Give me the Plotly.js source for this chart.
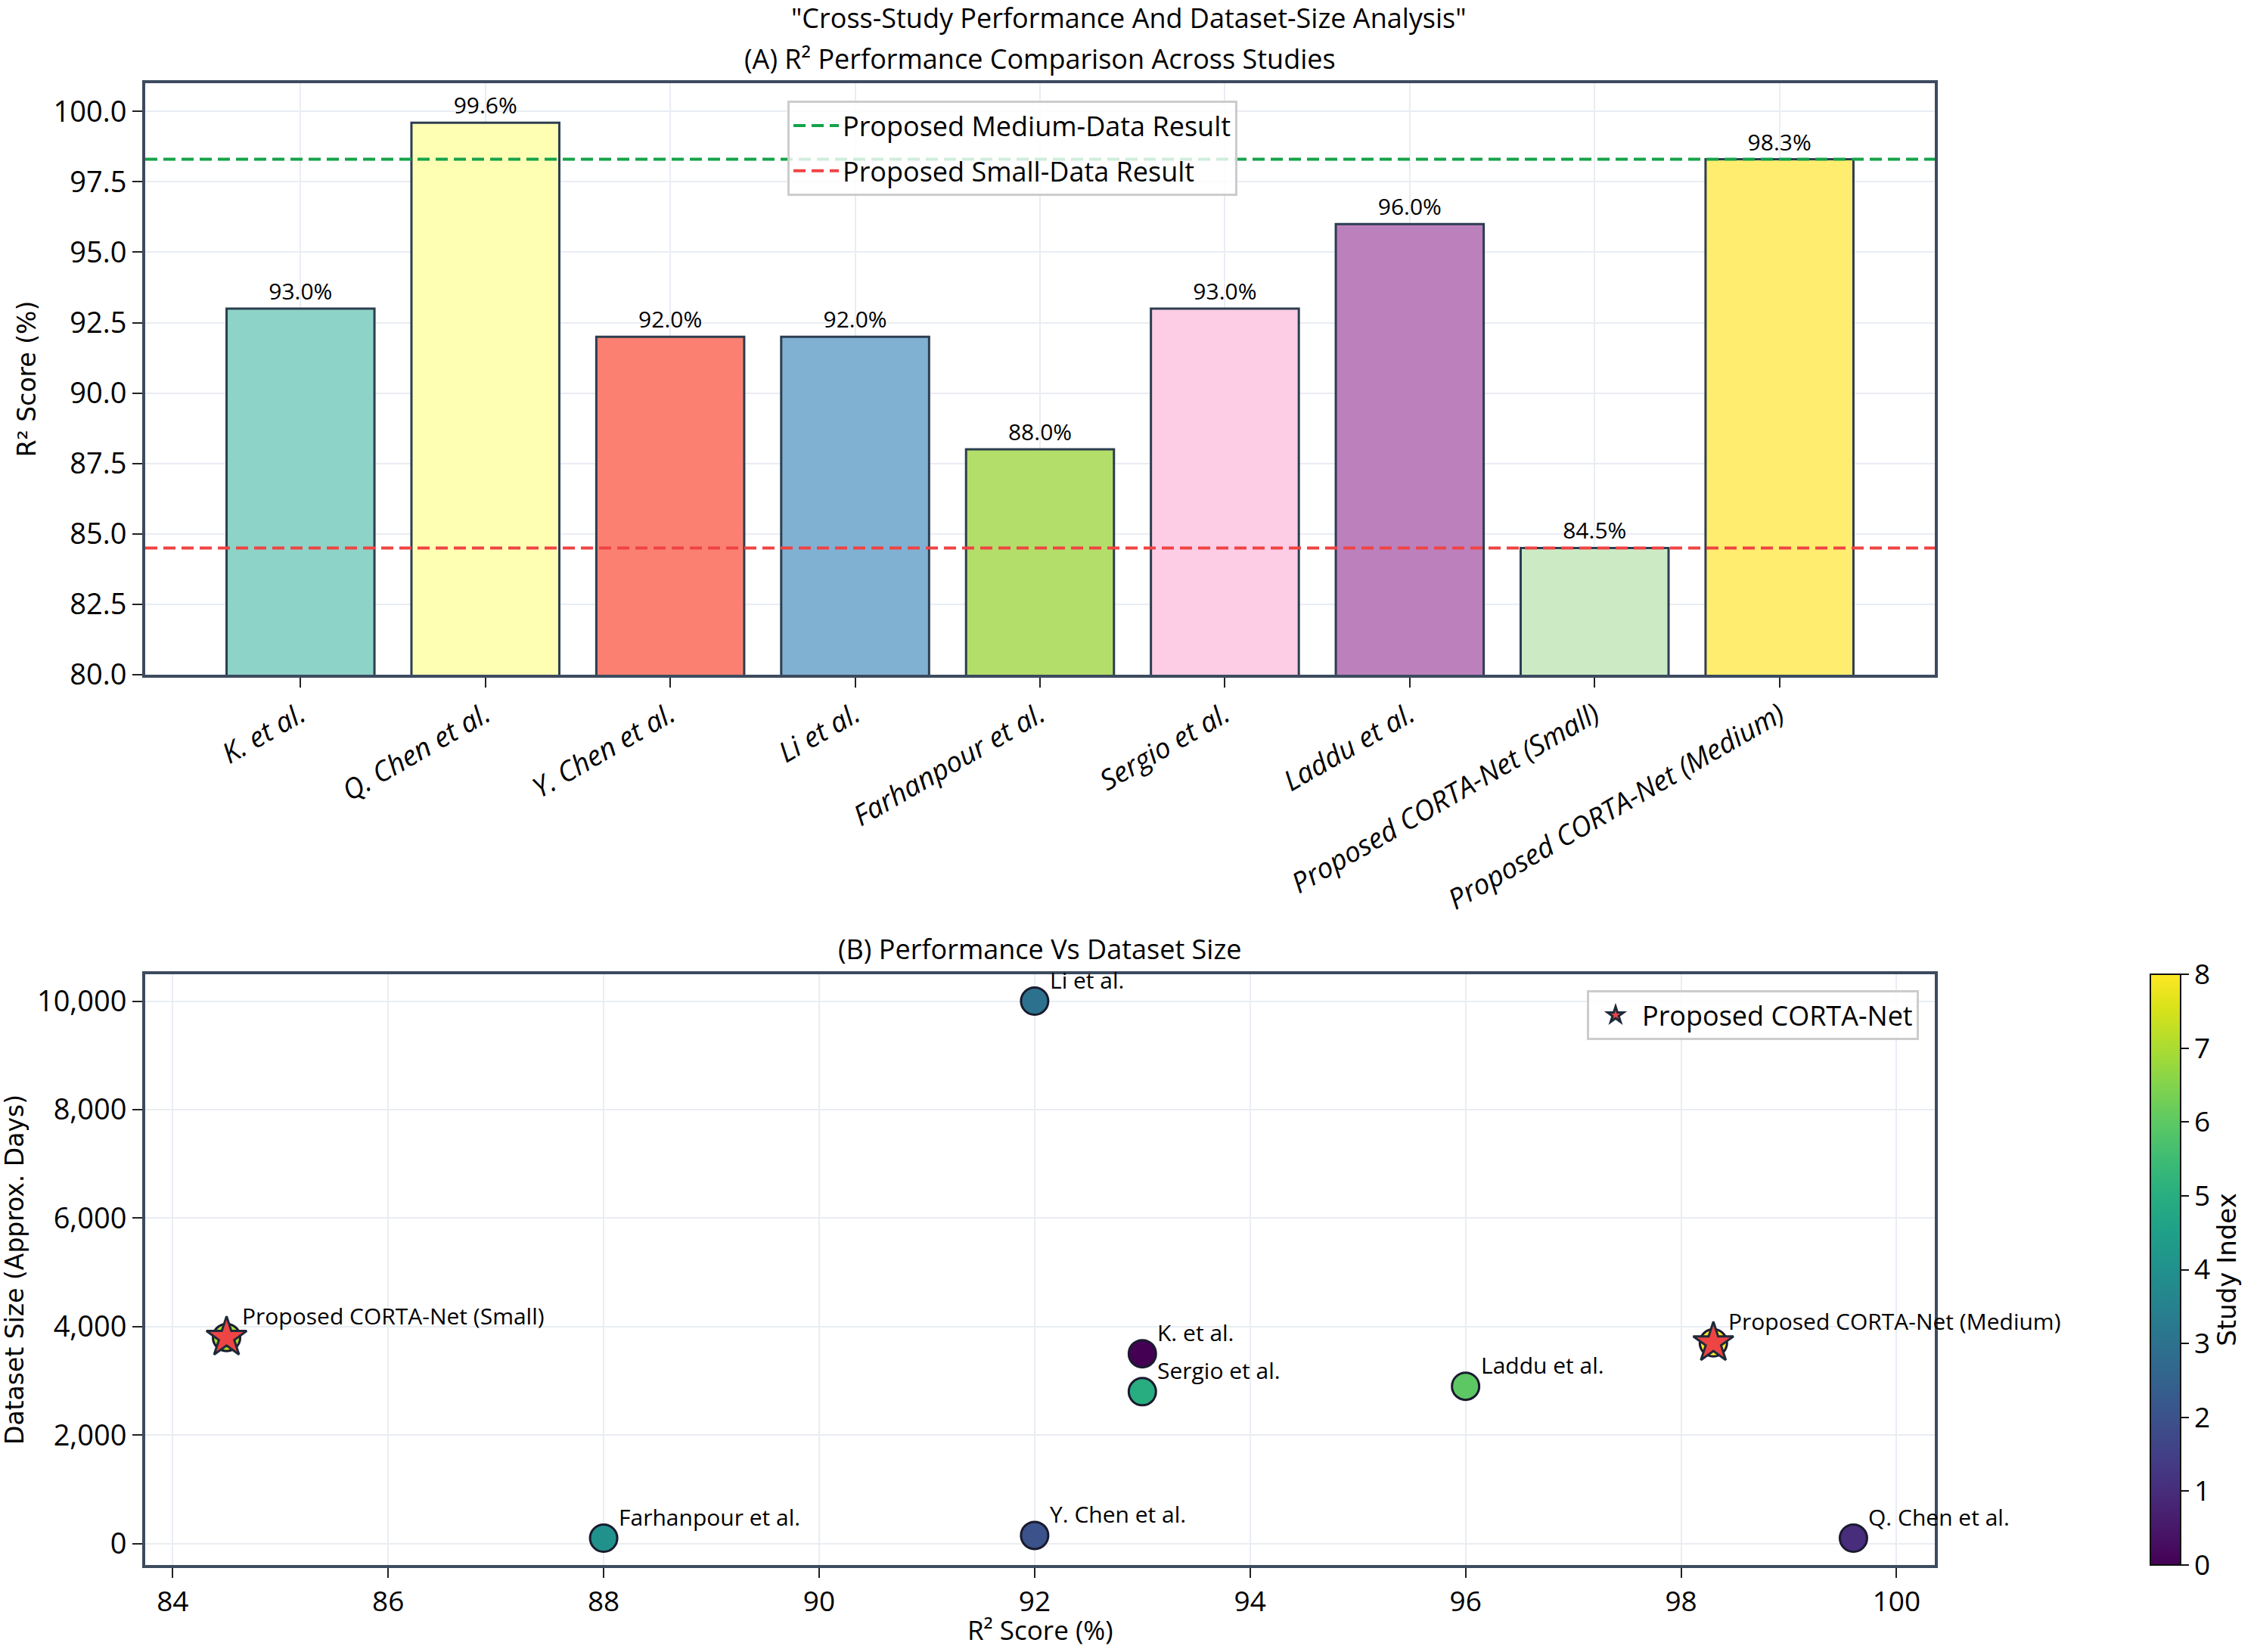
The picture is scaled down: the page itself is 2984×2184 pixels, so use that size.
<!DOCTYPE html>
<html>
<head>
<meta charset="utf-8">
<script src="https://cdn.plot.ly/plotly-3.0.1.min.js"></script>
<style>
  html, body { margin: 0; padding: 0; background: white; }
</style>
</head>
<body>
<div id="chart"></div>
<script>
// studies, in the order they appear on both panels
const studies = ['K. et al.', 'Q. Chen et al.', 'Y. Chen et al.', 'Li et al.', 'Farhanpour et al.',
                 'Sergio et al.', 'Laddu et al.', 'Proposed CORTA-Net (Small)', 'Proposed CORTA-Net (Medium)'];
const r2Scores = [93.0, 99.6, 92.0, 92.0, 88.0, 93.0, 96.0, 84.5, 98.3];
const datasetDays = [3500, 100, 150, 10000, 100, 2800, 2900, 3800, 3700];
const studyIndex = [0, 1, 2, 3, 4, 5, 6, 7, 8];
const barColors = ['#8dd3c7', '#ffffb3', '#fb8072', '#80b1d3', '#b3de69',
                   '#fccde5', '#bc80bd', '#ccebc5', '#ffed6f'];
const proposedIdx = [7, 8];
const mediumResult = 98.3;
const smallResult = 84.5;

const W = 2984, H = 2184;
const frameColor = '#3d4b5f';
const edgeColor = '#2c3e50';
const gridColor = '#e9edf3';
const txt = '#000000';
const sans = 'Open Sans, Liberation Sans, sans-serif';
const wide = 'DejaVu Sans, sans-serif';

// pixel helpers -> paper fractions
const px = x => x / W;
const py = y => 1 - y / H;

const barTrace = {
	type: 'bar',
	x: studies,
	y: r2Scores,
	marker: { color: barColors, line: { color: edgeColor, width: 3 } },
	text: r2Scores.map(v => v.toFixed(1) + '%'),
	textposition: 'outside',
	textfont: { family: sans, size: 30, color: txt },
	cliponaxis: false,
	showlegend: false,
	xaxis: 'x', yaxis: 'y',
};

const dotTrace = {
	type: 'scatter',
	mode: 'markers',
	x: r2Scores,
	y: datasetDays,
	marker: {
		size: 36,
		color: studyIndex,
		colorscale: 'Viridis',
		cmin: 0, cmax: 8,
		line: { color: '#1a1a2e', width: 3 },
		showscale: true,
		colorbar: {
			x: px(2843), xanchor: 'left', xref: 'paper',
			y: py(2069), yanchor: 'bottom',
			lenmode: 'pixels', len: 781,
			thickness: 40, xpad: 0, ypad: 0,
			outlinecolor: '#111', outlinewidth: 2,
			ticks: 'outside', ticklen: 10, tickwidth: 2, tickcolor: '#111',
			tickvals: studyIndex,
			tickfont: { family: sans, size: 37, color: txt },
			title: { text: 'Study Index', side: 'right', font: { family: wide, size: 34, color: txt } },
		},
	},
	showlegend: false,
	xaxis: 'x2', yaxis: 'y2',
};

const starTrace = {
	type: 'scatter',
	mode: 'markers',
	name: 'Proposed CORTA-Net',
	x: proposedIdx.map(i => r2Scores[i]),
	y: proposedIdx.map(i => datasetDays[i]),
	marker: { symbol: 'star', size: 40, color: '#ef4444', line: { color: '#1e2a3a', width: 3 } },
	legend: 'legend2',
	xaxis: 'x2', yaxis: 'y2',
};

const refLine = (val, color, name) => ({
	type: 'line', xref: 'x domain', x0: 0, x1: 1, yref: 'y', y0: val, y1: val,
	line: { color: color, width: 4, dash: '16px,8px' },
	showlegend: true, name: name, legend: 'legend', legendgroup: name, layer: 'above',
});

const annotations = [
	{ text: '"Cross-Study Performance And Dataset-Size Analysis"', xref: 'paper', yref: 'paper',
	  x: 0.5, y: py(24), xanchor: 'center', yanchor: 'middle', showarrow: false,
	  font: { family: sans, size: 36, color: txt } },
	{ text: '(A) R² Performance Comparison Across Studies', xref: 'paper', yref: 'paper',
	  x: px(1375), y: py(78), xanchor: 'center', yanchor: 'middle', showarrow: false,
	  font: { family: sans, size: 36, color: txt } },
	{ text: '(B) Performance Vs Dataset Size', xref: 'paper', yref: 'paper',
	  x: px(1375), y: py(1254), xanchor: 'center', yanchor: 'middle', showarrow: false,
	  font: { family: sans, size: 36, color: txt } },
	// bottom x-axis title placed directly so it clears the tick labels
	{ text: 'R² Score (%)', xref: 'paper', yref: 'paper',
	  x: px(1375), y: py(2180), xanchor: 'center', yanchor: 'bottom', showarrow: false,
	  font: { family: sans, size: 35, color: txt } },
];

studies.forEach((name, i) => {
	annotations.push({
		text: name, xref: 'x2', yref: 'y2', x: r2Scores[i], y: datasetDays[i],
		xanchor: 'left', yanchor: 'bottom', xshift: 18, yshift: 6, showarrow: false,
		font: { family: sans, size: 30, color: txt },
	});
});

const axisBase = {
	showline: true, mirror: true, linecolor: frameColor, linewidth: 4,
	showgrid: true, gridcolor: gridColor, gridwidth: 2,
	ticks: 'outside', ticklen: 13, tickwidth: 2, tickcolor: '#222',
	tickfont: { family: sans, size: 38, color: txt },
	zeroline: false, automargin: false,
};

const layout = {
	width: W, height: H,
	margin: { l: 0, r: 0, t: 0, b: 0 },
	paper_bgcolor: 'white', plot_bgcolor: 'white',
	bargap: 0.2,
	xaxis: Object.assign({}, axisBase, {
		domain: [px(192), px(2558)], anchor: 'y',
		type: 'category', range: [-0.84, 8.84],
		tickangle: -30,
		tickfont: { family: sans, size: 37, color: txt, style: 'italic' },
	}),
	yaxis: Object.assign({}, axisBase, {
		domain: [py(892), py(110)], anchor: 'x',
		range: [80, 101], tickvals: [80, 82.5, 85, 87.5, 90, 92.5, 95, 97.5, 100],
		tickformat: '.1f',
		title: { text: 'R² Score (%)', standoff: 14, font: { family: wide, size: 33, color: txt } },
	}),
	xaxis2: Object.assign({}, axisBase, {
		domain: [px(192), px(2558)], anchor: 'y2',
		range: [83.745, 100.355], dtick: 2,
		tickfont: { family: sans, size: 37, color: txt },
	}),
	yaxis2: Object.assign({}, axisBase, {
		domain: [py(2069), py(1288)], anchor: 'x2',
		range: [-395, 10495], dtick: 2000, tickformat: ',d',
		title: { text: 'Dataset Size (Approx. Days)', standoff: 12, font: { family: wide, size: 33, color: txt } },
	}),
	legend: {
		x: px(1041), y: py(133), xanchor: 'left', yanchor: 'top',
		bgcolor: 'rgba(255,255,255,0.8)', bordercolor: '#cccccc', borderwidth: 3,
		font: { family: sans, size: 36, color: txt },
		itemwidth: 60, tracegroupgap: 10,
	},
	legend2: {
		x: px(2537), y: py(1309), xanchor: 'right', yanchor: 'top',
		bgcolor: 'rgba(255,255,255,0.8)', bordercolor: '#cccccc', borderwidth: 3,
		font: { family: sans, size: 36, color: txt },
		itemwidth: 60,
	},
	shapes: [
		refLine(mediumResult, '#16a34a', 'Proposed Medium-Data Result'),
		refLine(smallResult, '#ef4444', 'Proposed Small-Data Result'),
	],
	annotations: annotations,
};

Plotly.newPlot('chart', [barTrace, dotTrace, starTrace], layout, { displayModeBar: false, staticPlot: true });
</script>
</body>
</html>
